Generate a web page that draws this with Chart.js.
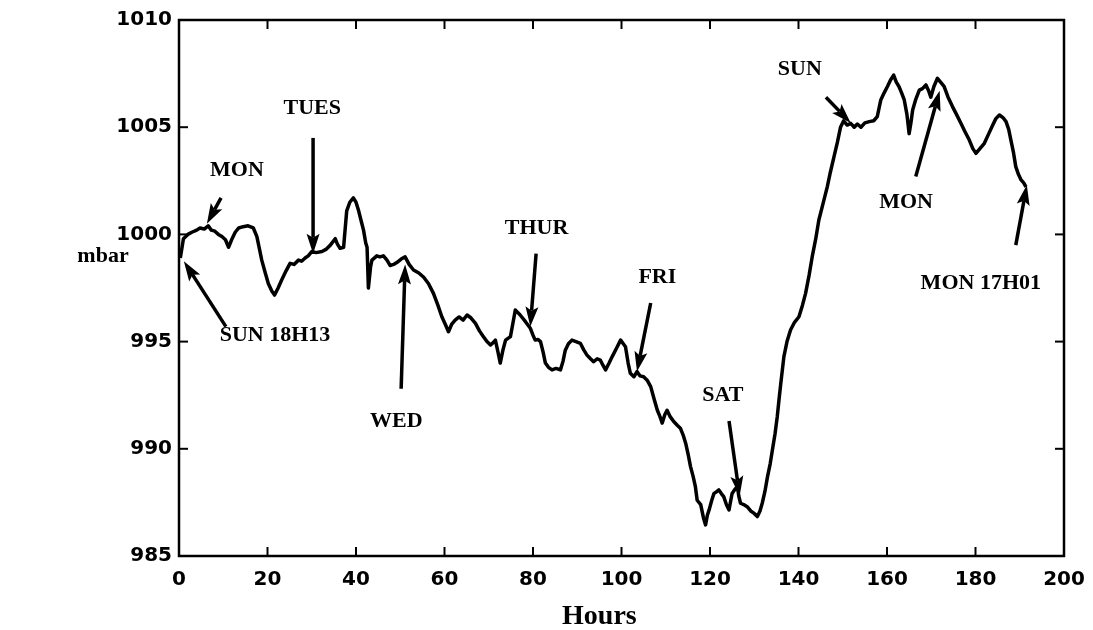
<!DOCTYPE html>
<html>
<head>
<meta charset="utf-8">
<script src="https://cdn.jsdelivr.net/npm/chart.js@4/dist/chart.umd.min.js"></script>
<style>
  html, body { margin: 0; padding: 0; background: #fff; }
  #wrap { width: 1093px; height: 630px; }
</style>
</head>
<body>
<div id="wrap"><canvas id="c" width="1093" height="630"></canvas></div>
<script>
// Barometric pressure record, hours since start
const hours = [
  0.3, 1.0, 2.0, 2.9, 4.0, 4.75, 5.7, 6.6, 7.3, 8.1, 8.9, 9.7, 10.5, 11.2, 12.0, 12.7, 13.5, 14.5, 15.6, 16.8,
  17.6, 18.2, 18.7, 19.5, 20.2, 21.0, 21.6, 22.4, 23.2, 24.2, 25.1, 26.0, 27.0, 27.7, 28.5, 29.2, 30.0, 31.0, 32.3, 33.2,
  34.2, 35.3, 35.8, 36.4, 37.2, 37.9, 38.6, 39.4, 40.0, 40.6, 41.2, 41.7, 42.2, 42.5, 42.8, 43.3, 43.6, 44.7, 45.4, 46.2,
  47.0, 47.7, 48.5, 49.3, 50.2, 51.1, 52.0, 53.0, 54.2, 55.3, 56.4, 57.5, 58.5, 59.4, 60.2, 60.9, 61.6, 62.4, 63.3, 64.2,
  65.1, 66.0, 67.0, 67.9, 68.8, 69.6, 70.4, 71.0, 71.5, 72.1, 72.6, 73.2, 73.8, 74.9, 75.5, 76.0, 76.6, 77.1, 78.3, 79.4,
  80.0, 80.5, 81.1, 81.7, 82.3, 82.8, 83.5, 84.3, 85.2, 86.2, 86.8, 87.3, 88.0, 88.8, 89.7, 90.7, 91.5, 92.2, 93.0, 93.7,
  94.5, 95.2, 95.8, 96.4, 97.2, 97.9, 98.9, 99.8, 100.4, 100.9, 101.5, 102.0, 102.8, 103.5, 104.2, 105.0, 105.8, 106.6, 107.4, 108.1,
  108.7, 109.2, 109.8, 110.3, 111.0, 111.8, 112.6, 113.3, 114.0, 114.5, 115.1, 115.6, 116.2, 116.7, 117.1, 117.9, 118.5, 119.0, 119.4, 119.8,
  120.4, 120.9, 121.5, 122.0, 122.6, 123.1, 123.7, 124.3, 124.7, 125.0, 125.6, 126.2, 126.5, 126.9, 127.6, 128.4, 129.2, 129.9, 130.7, 131.3,
  131.8, 132.4, 133.0, 133.6, 134.1, 134.7, 135.2, 135.6, 136.0, 136.7, 137.4, 138.2, 139.1, 140.1, 140.9, 141.6, 142.4, 143.1, 143.9, 144.6,
  145.5, 146.5, 147.2, 148.0, 148.8, 149.5, 150.2, 151.0, 151.8, 152.6, 153.3, 154.1, 155.0, 156.0, 157.0, 157.8, 158.6, 159.3, 160.1, 160.8,
  161.5, 162.1, 162.7, 163.3, 163.9, 164.5, 165.0, 165.4, 165.8, 166.5, 167.3, 168.0, 168.8, 169.4, 169.9, 170.6, 171.4, 172.1, 172.9, 173.8,
  174.8, 175.7, 176.7, 177.6, 178.6, 179.4, 180.1, 181.0, 182.0, 183.0, 183.9, 184.6, 185.4, 186.2, 186.9, 187.5, 188.0, 188.6, 189.1, 189.7,
  190.3, 190.9, 191.4
];

const pressure = [
  998.9, 999.8, 1000.0, 1000.1, 1000.2, 1000.3, 1000.25, 1000.4, 1000.2, 1000.15, 1000.0, 999.9, 999.75, 999.4, 999.8, 1000.1, 1000.3, 1000.36, 1000.4, 1000.3,
  999.9, 999.3, 998.8, 998.2, 997.7, 997.35, 997.17, 997.5, 997.87, 998.3, 998.65, 998.6, 998.8, 998.75, 998.9, 999.0, 999.2, 999.15, 999.2, 999.3,
  999.5, 999.8, 999.55, 999.35, 999.4, 1001.1, 1001.5, 1001.7, 1001.5, 1001.1, 1000.6, 1000.2, 999.6, 999.4, 997.5, 998.5, 998.8, 999.0, 998.95, 999.0,
  998.8, 998.55, 998.6, 998.7, 998.85, 998.95, 998.6, 998.34, 998.2, 998.0, 997.7, 997.25, 996.7, 996.16, 995.8, 995.46, 995.8, 996.0, 996.15, 996.0,
  996.24, 996.1, 995.85, 995.5, 995.23, 995.0, 994.84, 994.95, 995.07, 994.5, 994.0, 994.6, 995.07, 995.23, 995.9, 996.47, 996.35, 996.24, 995.93, 995.62,
  995.3, 995.07, 995.1, 995.0, 994.5, 994.0, 993.8, 993.68, 993.75, 993.68, 994.1, 994.6, 994.9, 995.07, 995.0, 994.92, 994.6, 994.37, 994.2, 994.06,
  994.2, 994.14, 993.9, 993.68, 994.0, 994.3, 994.7, 995.07, 994.9, 994.76, 994.0, 993.52, 993.36, 993.6, 993.4, 993.36, 993.2, 992.9, 992.3, 991.8,
  991.5, 991.2, 991.6, 991.8, 991.5, 991.27, 991.1, 990.96, 990.6, 990.26, 989.7, 989.17, 988.7, 988.23, 987.6, 987.4, 986.8, 986.45, 986.9, 987.15,
  987.6, 987.92, 988.0, 988.08, 987.9, 987.77, 987.4, 987.15, 987.6, 987.92, 988.1, 988.23, 987.8, 987.46, 987.4, 987.3, 987.1, 987.0, 986.84, 987.1,
  987.46, 988.0, 988.7, 989.3, 989.94, 990.7, 991.5, 992.3, 993.05, 994.3, 995.0, 995.54, 995.9, 996.16, 996.7, 997.25, 998.1, 998.96, 999.8, 1000.67,
  1001.4, 1002.22, 1002.9, 1003.6, 1004.3, 1005.0, 1005.3, 1005.1, 1005.18, 1005.0, 1005.15, 1005.0, 1005.2, 1005.26, 1005.3, 1005.49, 1006.27, 1006.58, 1006.9, 1007.2,
  1007.43, 1007.1, 1006.9, 1006.6, 1006.27, 1005.6, 1004.7, 1005.2, 1005.8, 1006.3, 1006.73, 1006.8, 1006.97, 1006.7, 1006.4, 1006.9, 1007.28, 1007.1, 1006.9, 1006.4,
  1005.96, 1005.6, 1005.18, 1004.8, 1004.4, 1004.0, 1003.78, 1004.0, 1004.25, 1004.7, 1005.1, 1005.4, 1005.57, 1005.45, 1005.26, 1004.9, 1004.4, 1003.8, 1003.16, 1002.8,
  1002.54, 1002.4, 1002.22
];

// Axis ticks
const hourTicks = [0, 20, 40, 60, 80, 100, 120, 140, 160, 180, 200];
const mbarTicks = [985, 990, 995, 1000, 1005, 1010];

// Day markers: label, label position, arrow tail, arrow tip (hours, mbar)
const dayLabels = ['MON', 'TUES', 'SUN 18H13', 'WED', 'THUR', 'FRI', 'SAT', 'SUN', 'MON', 'MON 17H01'];
const labelAt   = [[13.1, 1003.0], [30.1, 1005.9], [21.7, 995.3], [49.1, 991.3], [80.8, 1000.3],
                   [108.1, 998.0], [122.9, 992.5], [140.3, 1007.7], [164.3, 1001.5], [181.2, 997.7]];
const arrowFrom = [[9.5, 1001.7], [30.3, 1004.5], [10.6, 995.7], [50.2, 992.8], [80.7, 999.1],
                   [106.6, 996.8], [124.3, 991.3], [146.2, 1006.4], [166.5, 1002.7], [189.1, 999.5]];
const arrowTo   = [[6.3, 1000.5], [30.3, 999.1], [1.1, 998.75], [51.1, 998.6], [79.4, 995.7],
                   [103.5, 993.6], [126.7, 987.8], [151.8, 1005.2], [171.9, 1006.7], [191.6, 1002.3]];

const points = hours.map((h, i) => ({ x: h, y: pressure[i] }));

const SERIF = '"Liberation Serif", "DejaVu Serif", serif';
const TICKFONT = { family: '"DejaVu Sans", sans-serif', size: 20, weight: 'bold' };

// Box frame with inward tick marks on all four sides
const framePlugin = {
  id: 'frameTicks',
  afterDraw(chart) {
    const { ctx, chartArea: a, scales: { x, y } } = chart;
    ctx.save();
    ctx.strokeStyle = '#000';
    ctx.lineCap = 'square';
    ctx.lineWidth = 2.5;
    ctx.strokeRect(a.left, a.top, a.right - a.left, a.bottom - a.top);
    ctx.lineWidth = 2;
    const seg = (x1, y1, x2, y2) => { ctx.beginPath(); ctx.moveTo(x1, y1); ctx.lineTo(x2, y2); ctx.stroke(); };
    hourTicks.forEach(v => {
      const px = x.getPixelForValue(v);
      seg(px, a.bottom, px, a.bottom - 8);
      seg(px, a.top, px, a.top + 8);
    });
    mbarTicks.forEach(v => {
      const py = y.getPixelForValue(v);
      seg(a.left, py, a.left + 8, py);
      seg(a.right, py, a.right - 8, py);
    });
    ctx.restore();
  }
};

// Day labels with arrows, plus the axis names
const notesPlugin = {
  id: 'dayNotes',
  afterDraw(chart) {
    const { ctx, chartArea: a, scales: { x, y } } = chart;
    ctx.save();
    ctx.fillStyle = '#000';
    ctx.strokeStyle = '#000';
    ctx.textAlign = 'center';
    ctx.textBaseline = 'middle';
    ctx.font = 'bold 22px ' + SERIF;
    dayLabels.forEach((t, i) => {
      ctx.fillText(t, x.getPixelForValue(labelAt[i][0]), y.getPixelForValue(labelAt[i][1]));
      const x1 = x.getPixelForValue(arrowFrom[i][0]), y1 = y.getPixelForValue(arrowFrom[i][1]);
      const x2 = x.getPixelForValue(arrowTo[i][0]), y2 = y.getPixelForValue(arrowTo[i][1]);
      const ang = Math.atan2(y2 - y1, x2 - x1);
      const headLen = 20, headHalf = 6.5;
      const bx = x2 - headLen * Math.cos(ang), by = y2 - headLen * Math.sin(ang);
      ctx.lineWidth = 3.5;
      ctx.beginPath();
      ctx.moveTo(x1, y1);
      ctx.lineTo(bx + 4 * Math.cos(ang), by + 4 * Math.sin(ang));
      ctx.stroke();
      ctx.beginPath();
      ctx.moveTo(x2, y2);
      ctx.lineTo(bx - headHalf * Math.sin(ang), by + headHalf * Math.cos(ang));
      ctx.lineTo(bx + 4 * Math.cos(ang), by + 4 * Math.sin(ang));
      ctx.lineTo(bx + headHalf * Math.sin(ang), by - headHalf * Math.cos(ang));
      ctx.closePath();
      ctx.fill();
    });
    ctx.font = 'bold 22px ' + SERIF;
    ctx.fillText('mbar', a.left - 76, y.getPixelForValue(999.0));
    ctx.font = 'bold 28px ' + SERIF;
    ctx.fillText('Hours', x.getPixelForValue(95), a.bottom + 61);
    ctx.restore();
  }
};

new Chart(document.getElementById('c'), {
  type: 'line',
  data: {
    datasets: [{
      data: points,
      borderColor: '#000',
      borderWidth: 3.5,
      pointRadius: 0,
      tension: 0,
      borderJoinStyle: 'round',
      fill: false
    }]
  },
  options: {
    responsive: false,
    animation: false,
    devicePixelRatio: 1,
    layout: { padding: { left: 0, right: 29, top: 20, bottom: 0 } },
    plugins: { legend: { display: false }, tooltip: { enabled: false } },
    scales: {
      x: {
        type: 'linear',
        min: 0, max: 200,
        afterBuildTicks: s => { s.ticks = hourTicks.map(v => ({ value: v })); },
        afterFit: s => { s.height = 74; s.paddingLeft = 0; s.paddingRight = 0; },
        grid: { display: false, drawTicks: false },
        border: { display: false },
        ticks: { color: '#000', font: TICKFONT, padding: 12, maxRotation: 0, autoSkip: false,
                 callback: v => String(v) }
      },
      y: {
        type: 'linear',
        min: 985, max: 1010,
        afterBuildTicks: s => { s.ticks = mbarTicks.map(v => ({ value: v })); },
        afterFit: s => { s.width = 179; s.paddingTop = 0; s.paddingBottom = 0; },
        grid: { display: false, drawTicks: false },
        border: { display: false },
        ticks: { color: '#000', font: TICKFONT, padding: 7, autoSkip: false,
                 callback: v => String(v) }
      }
    }
  },
  plugins: [framePlugin, notesPlugin]
});
</script>
</body>
</html>
